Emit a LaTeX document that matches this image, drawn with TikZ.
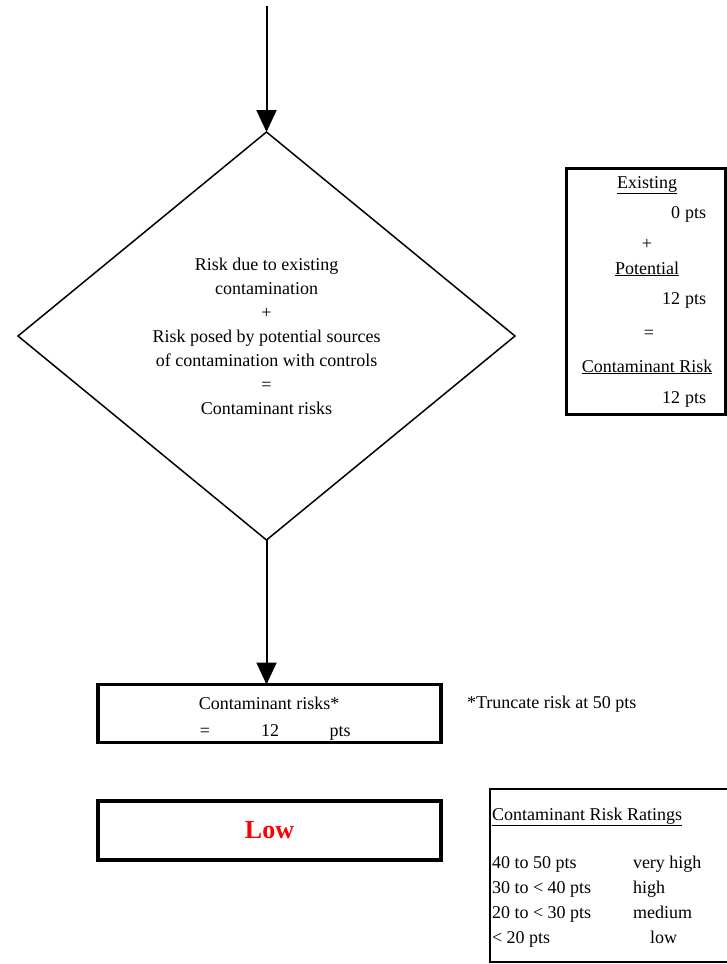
\documentclass[tikz,border=0pt]{standalone}
\usepackage{fontspec}
\setmainfont{Liberation Serif}
\usetikzlibrary{arrows.meta,shapes.geometric}

\begin{document}
\begin{tikzpicture}[x=1pt,y=-1pt,
  every node/.style={font=\fontsize{18}{24}\selectfont, inner sep=0pt, outer sep=0pt},
  flowarrow/.style={line width=2pt, -{Triangle[width=20pt,length=22pt]}},
  decision/.style={diamond, draw, line width=1.5pt, minimum width=497pt,
                   minimum height=408pt, aspect=1.22, align=center},
  heavybox/.style={draw, line width=3.5pt, minimum width=343pt, minimum height=58pt},
  tallybox/.style={draw, line width=3pt, minimum width=159pt, minimum height=246pt},
  scalebox/.style={draw, line width=1.5pt},
  lbl/.style={anchor=base},
  lblw/.style={anchor=base west},
  lble/.style={anchor=base east}]

  % page frame
  \clip (0,0) rectangle (727,964);
  \fill[white] (0,0) rectangle (727,964);

  % decision diamond
  \node[decision] (risk) at (266.5,336)
    {Risk due to existing\\contamination\\+\\Risk posed by potential sources\\
     of contamination with controls\\=\\Contaminant risks};

  % incoming flow
  \coordinate (start) at (266.5,6);
  \draw[flowarrow] (start) -- (risk.north);

  % result box
  \node[heavybox] (total) at (269.5,713.5) {};
  \draw[flowarrow] (risk.south) -- (risk.south |- total.north);
  \node[lbl] (totlbl) at (269,709) {Contaminant risks*};
  \node[lbl] (toteq) at (205,736) {=};
  \node[lbl] (totval) at (270,736) {12};
  \node[lbl] (totpts) at (340,736) {pts};
  \node[lblw] (trunc) at (467,708) {*Truncate risk at 50 pts};

  % rating box
  \node[heavybox, minimum height=59pt] (rating) at (269.5,830.5)
    {\fontsize{26}{30}\selectfont\bfseries\color{red}Low};

  % tally box on the right
  \node[tallybox] (tally) at (645.5,291) {};
  \node[lbl] (exh) at (647,188) {\underline{Existing}};
  \node[lble] (exv) at (680,218) {0};
  \node[lblw] (exu) at (685,218) {pts};
  \node[lbl] (plus) at (647,249) {+};
  \node[lbl] (poh) at (647,274) {\underline{Potential}};
  \node[lble] (pov) at (680,304) {12};
  \node[lblw] (pou) at (685,304) {pts};
  \node[lbl] (eq) at (649,338) {=};
  \node[lbl] (crh) at (647,372) {\underline{Contaminant Risk}};
  \node[lble] (crv) at (680,403) {12};
  \node[lblw] (cru) at (685,403) {pts};

  % rating scale
  \draw[scalebox] (490,789) rectangle (735,962);
  \node[lblw] (sch) at (492,820) {\underline{Contaminant Risk Ratings}};
  \node[lblw] (r1) at (492,868) {40 to 50 pts};
  \node[lblw] (r1t) at (633,868) {very high};
  \node[lblw] (r2) at (492,893) {30 to < 40 pts};
  \node[lblw] (r2t) at (633,893) {high};
  \node[lblw] (r3) at (492,918) {20 to < 30 pts};
  \node[lblw] (r3t) at (633,918) {medium};
  \node[lblw] (r4) at (492,943) {< 20 pts};
  \node[lblw] (r4t) at (650,943) {low};
\end{tikzpicture}
\end{document}
